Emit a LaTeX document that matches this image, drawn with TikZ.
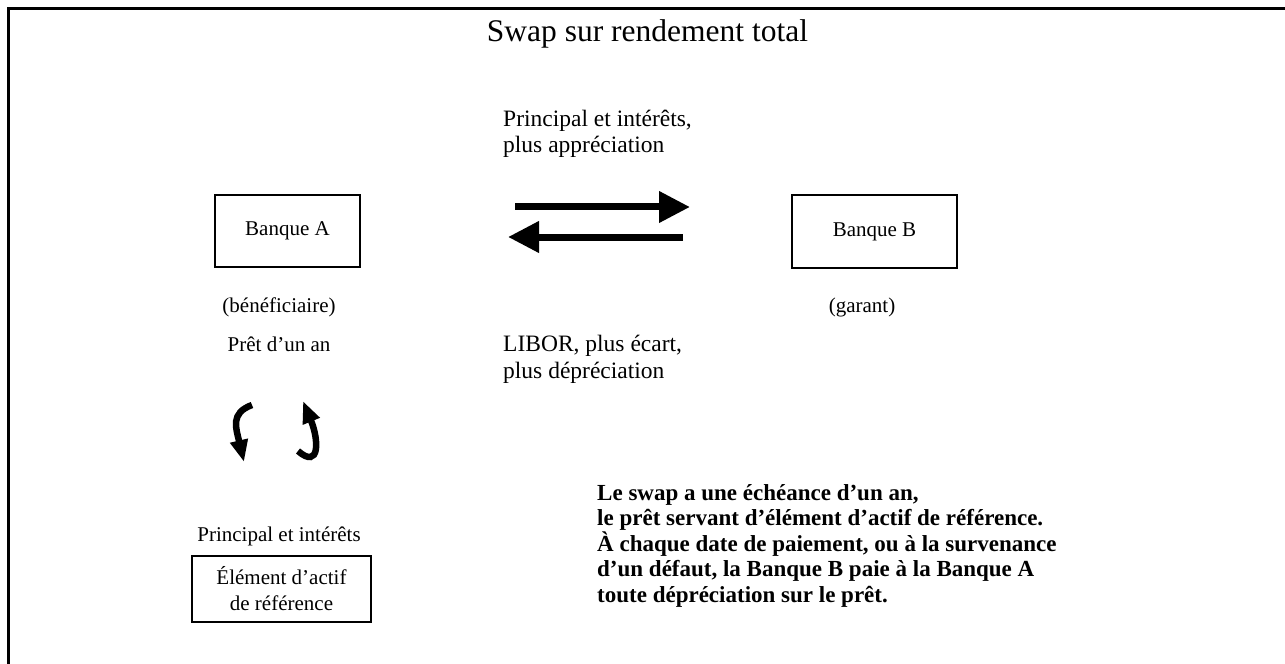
\documentclass[tikz,border=0pt]{standalone}
\usepackage{fontspec}
\setmainfont{Liberation Serif}
\usetikzlibrary{arrows.meta}
\begin{document}
\begin{tikzpicture}[x=1bp,y=-1bp,
  txt/.style={inner sep=0pt,anchor=base,font=\fontsize{21bp}{25bp}\selectfont},
  lbl/.style={inner sep=0pt,anchor=base west,align=left,font=\fontsize{23.5bp}{26.5bp}\selectfont},
  bank/.style={draw,line width=2bp,minimum width=145bp,minimum height=72bp,inner sep=0pt,font=\fontsize{21bp}{25bp}\selectfont},
  bigarrow/.style={line width=7bp,-{Triangle[length=31bp,width=30bp]}},
  curvarrow/.style={line width=6.5bp,-{Triangle[length=22bp,width=17bp]}}]
\useasboundingbox (0,0) rectangle (1285,664);
% frame
\draw[line width=3bp] (8,664) -- (8,9) -- (1285,9);
% title
\node[inner sep=0pt,anchor=base,font=\fontsize{31.5bp}{36bp}\selectfont] (title) at (647.5,42) {Swap sur rendement total};
% banks
\node[bank] (A) at (287.5,231) {Banque A};
\node[bank,minimum width=165bp,minimum height=73bp] (B) at (874.5,231.5) {Banque B};
\node[txt] (benef) at (279,312) {(bénéficiaire)};
\node[txt] (garant) at (862,312) {(garant)};
\node[txt] (pret) at (279,351) {Prêt d’un an};
\node[txt] (princ) at (279,541) {Principal et intérêts};
\node[draw,line width=2bp,minimum width=179bp,minimum height=66bp,inner sep=0pt,align=center,font=\fontsize{21bp}{26bp}\selectfont] (elem) at (281.5,589) {Élément d’actif\\de référence};
% arrow labels
\node[lbl] (top) at (503,153) {Principal et intérêts,\\plus appréciation};
\node[lbl] (bot) at (503,378) {LIBOR, plus écart,\\plus dépréciation};
% straight arrows
\coordinate (t1) at (515,207);
\coordinate (t2) at (690,207);
\coordinate (b1) at (683,237);
\coordinate (b2) at (508,237);
\draw[bigarrow] (t1) -- (t2);
\draw[bigarrow] (b1) -- (b2);
% curved arrows
\coordinate (l1) at (252,405);
\coordinate (l2) at (244,462);
\coordinate (r1) at (298,451);
\coordinate (r2) at (303,401);
\draw[curvarrow] (l1) .. controls (230,413) and (236,428) .. (l2);
\draw[curvarrow] (r1) .. controls (320,470) and (319,440) .. (r2);
% note
\node[inner sep=0pt,anchor=base west,align=left,font=\bfseries\fontsize{23bp}{25.5bp}\selectfont] (note) at (597,602) {Le swap a une échéance d’un an,\\le prêt servant d’élément d’actif de référence.\\À chaque date de paiement, ou à la survenance\\d’un défaut, la Banque B paie à la Banque A\\toute dépréciation sur le prêt.};
\end{tikzpicture}
\end{document}
